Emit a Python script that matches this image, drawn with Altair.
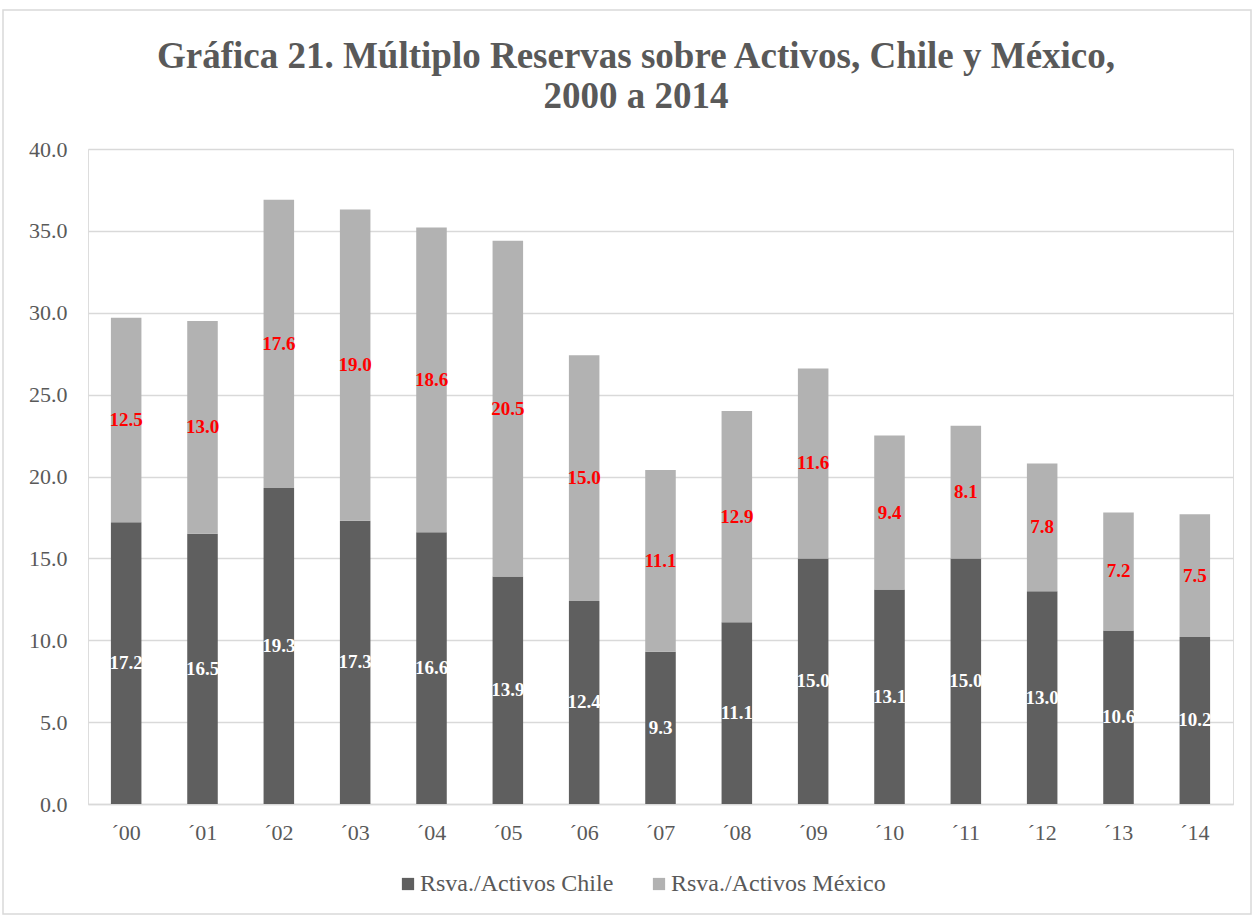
import altair as alt
import pandas as pd

# Years (axis labels) and the two stacked series
anios = ["´00", "´01", "´02", "´03", "´04", "´05", "´06", "´07",
         "´08", "´09", "´10", "´11", "´12", "´13", "´14"]
chile = [17.2, 16.5, 19.3, 17.3, 16.6, 13.9, 12.4, 9.3,
         11.1, 15.0, 13.1, 15.0, 13.0, 10.6, 10.2]
mexico = [12.5, 13.0, 17.6, 19.0, 18.6, 20.5, 15.0, 11.1,
          12.9, 11.6, 9.4, 8.1, 7.8, 7.2, 7.5]

titulo = ["Gráfica 21. Múltiplo Reservas sobre Activos, Chile y México,", "2000 a 2014"]

serie_chile = "Rsva./Activos Chile"
serie_mexico = "Rsva./Activos México"

filas = []
for a, c, m in zip(anios, chile, mexico):
    filas.append({"anio": a, "serie": serie_chile, "valor": c, "orden": 0})
    filas.append({"anio": a, "serie": serie_mexico, "valor": m, "orden": 1})
df = pd.DataFrame(filas)

W, H = 1145, 655
FONT = "Liberation Serif"
GRIS = "#595959"

base = alt.Chart(df).transform_stack(
    stack="valor", groupby=["anio"], as_=["v0", "v1"],
    sort=[alt.SortField("orden", order="ascending")],
).transform_calculate(mid="(datum.v0 + datum.v1) / 2")

x_enc = alt.X("anio:N", sort=anios, title=None,
              scale=alt.Scale(paddingInner=0.6, paddingOuter=0.3),
              axis=alt.Axis(labelAngle=0, labelFont=FONT, labelFontSize=22,
                            labelColor=GRIS, ticks=False, domain=True,
                            domainColor="#d9d9d9", domainWidth=1.5,
                            labelPadding=18))
y_scale = alt.Scale(domain=[0, 40], nice=False)

barras = base.mark_bar().encode(
    x=x_enc,
    y=alt.Y("v0:Q", scale=y_scale, title=None,
            axis=alt.Axis(values=[0, 5, 10, 15, 20, 25, 30, 35, 40], format=".1f",
                          labelFont=FONT, labelFontSize=22, labelColor=GRIS,
                          ticks=False, domain=False, grid=True,
                          gridColor="#d9d9d9", gridWidth=1.5, labelPadding=21)),
    y2="v1:Q",
    color=alt.Color("serie:N",
                    scale=alt.Scale(domain=[serie_chile, serie_mexico],
                                    range=["#5f5f5f", "#b2b2b2"]),
                    legend=alt.Legend(title=None, orient="none", direction="horizontal",
                                      legendX=308, legendY=723, symbolType="square",
                                      symbolSize=150, symbolStrokeWidth=0,
                                      labelFont=FONT, labelFontSize=24,
                                      labelColor=GRIS, columnPadding=33,
                                      labelOffset=0, labelLimit=0)),
)

etiquetas = base.mark_text(font=FONT, fontSize=19, fontWeight="bold",
                           baseline="middle").encode(
    x=alt.X("anio:N", sort=anios),
    y=alt.Y("mid:Q", scale=y_scale),
    text=alt.Text("valor:Q", format=".1f"),
    color=alt.Color("serie:N",
                    scale=alt.Scale(domain=[serie_chile, serie_mexico],
                                    range=["#ffffff", "#ff0000"]),
                    legend=None),
)

# Outer frame around the whole chart
marco = alt.Chart(pd.DataFrame({"k": [0]})).mark_rect(
    fill=None, stroke="#d9d9d9", strokeWidth=1.5, clip=False
).encode(x=alt.value(-85), x2=alt.value(W + 18),
         y=alt.value(-139), y2=alt.value(H + 110))

# Two-line chart heading, drawn above the plot area
df_titulo = pd.DataFrame({"linea": titulo, "n": [0, 1]})


def linea_titulo(i, y_px):
    return alt.Chart(df_titulo).transform_filter(alt.datum.n == i).mark_text(
        font=FONT, fontSize=37, fontWeight="bold", color=GRIS,
        align="center", baseline="middle", clip=False
    ).encode(x=alt.value(548), y=alt.value(y_px), text="linea:N")


encabezado = linea_titulo(0, -92) + linea_titulo(1, -52)

chart = alt.layer(marco, encabezado, barras, etiquetas).resolve_scale(
    color="independent"
).properties(
    width=W, height=H,
    autosize=alt.AutoSizeParams(type="none"),
    padding={"left": 88, "top": 149, "right": 19, "bottom": 111},
).configure_view(stroke=None).configure(background="white")

chart.save("out.html", embed_options={"renderer": "svg", "actions": False})
